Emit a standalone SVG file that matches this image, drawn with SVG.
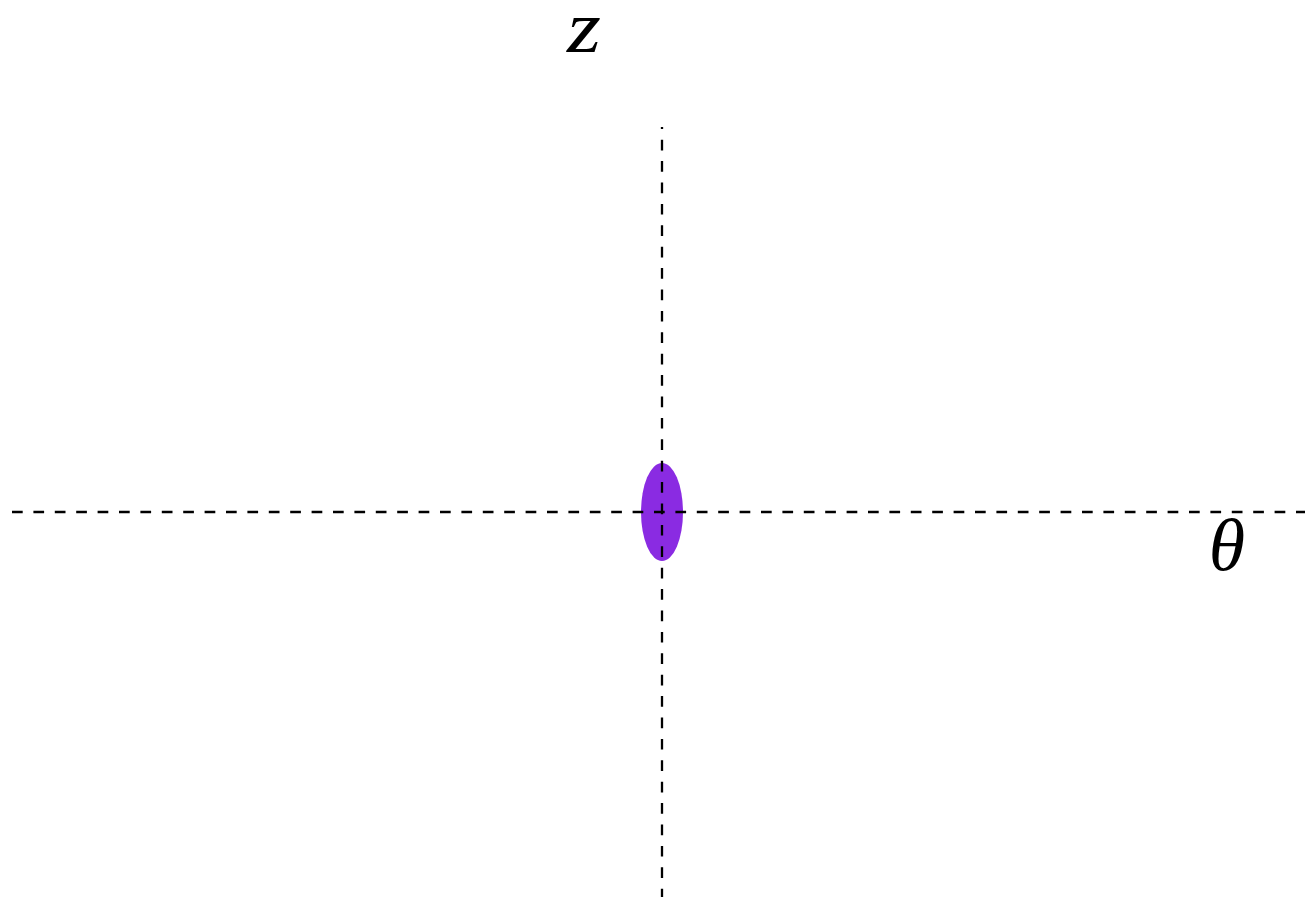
<svg xmlns="http://www.w3.org/2000/svg" width="1310" height="900" viewBox="0 0 1310 900">
<style>
.axis{stroke:#000;stroke-width:2.3;stroke-dasharray:10.7,10.7;fill:none}
.lbl{font-family:"Liberation Serif","DejaVu Serif",serif;font-style:italic;font-size:74px;fill:#000;text-anchor:middle}
</style>
<rect width="1310" height="900" fill="#fff"/>
<g id="particle"><ellipse cx="662" cy="512" rx="21" ry="49" fill="#8a2be2"/></g>
<g id="connectors">
<line class="axis" x1="12" y1="512" x2="1305" y2="512"/>
<line class="axis" x1="662" y1="127" x2="662" y2="897" stroke-dashoffset="8.7"/>
</g>
<g id="label-z"><text class="lbl" x="584" y="52" textLength="34" lengthAdjust="spacingAndGlyphs">z</text></g>
<g id="label-theta"><text class="lbl" x="1227" y="570">θ</text></g>
</svg>
